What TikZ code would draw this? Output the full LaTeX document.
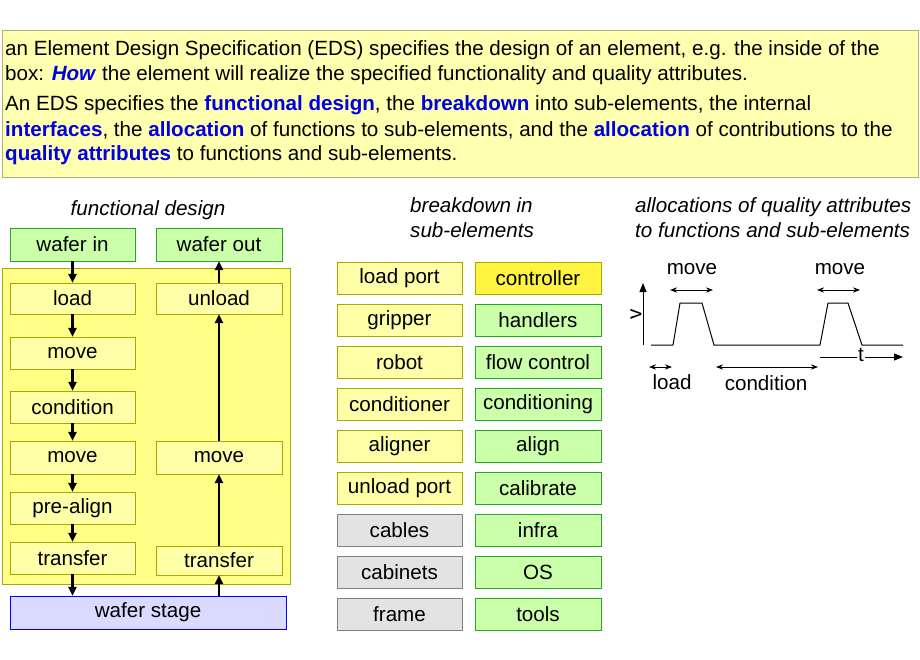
\documentclass[tikz,border=0pt]{standalone}
\usepackage{fontspec}
\setmainfont{Liberation Sans}
\usetikzlibrary{arrows.meta}
\definecolor{ly}{HTML}{FFFFB0}
\definecolor{cy}{HTML}{FFFF88}
\definecolor{by}{HTML}{FFFFA8}
\definecolor{gr}{HTML}{CCFFAA}
\definecolor{gb}{HTML}{22AA22}
\definecolor{yb}{HTML}{A8A800}
\definecolor{kw}{HTML}{0000E0}
\newcommand{\fs}{\fontsize{20.6}{23}\selectfont}
\begin{document}
\begin{tikzpicture}[x=1pt,y=-1pt,
 box/.style={draw=yb,fill=by,font=\fs},
 gbox/.style={draw=gb,fill=gr,font=\fs},
 ar/.style={-{Triangle[length=9pt,width=8pt]},line width=2.2pt},
 da/.style={{Stealth[length=7pt]}-{Stealth[length=7pt]},line width=1pt},
 lab/.style={font=\fs}]
\useasboundingbox (0,0) rectangle (920,660);
\fill[white] (0,0) rectangle (920,660);
% top text box
\draw[draw=gray!70!yellow,fill=ly] (2,30) rectangle (918,177);
\node[anchor=west,lab,inner sep=0] (t1) at (5,50) {an Element Design Specification (EDS) specifies the design of an element, e.g. the inside of the};
\node[anchor=west,lab,inner sep=0] (t2) at (5,75) {box: \textcolor{kw}{\textbf{\textit{How}}} the element will realize the specified functionality and quality attributes.};
\node[anchor=west,lab,inner sep=0] (t3) at (5,105) {An EDS specifies the \textcolor{kw}{\textbf{functional design}}, the \textcolor{kw}{\textbf{breakdown}} into sub-elements, the internal};
\node[anchor=west,lab,inner sep=0] (t4) at (5,130) {\textcolor{kw}{\textbf{interfaces}}, the \textcolor{kw}{\textbf{allocation}} of functions to sub-elements, and the \textcolor{kw}{\textbf{allocation}} of contributions to the};
\node[anchor=west,lab,inner sep=0] (t5) at (5,155) {\textcolor{kw}{\textbf{quality attributes}} to functions and sub-elements.};
% titles
\node[font=\fs\itshape] (h1) at (148,210) {functional design};
\node[anchor=west,font=\fs\itshape,align=left,inner sep=0] (h2) at (410,218) {breakdown in\\[2pt]sub-elements};
\node[anchor=west,font=\fs\itshape,align=left,inner sep=0] (h3) at (635,218) {allocations of quality attributes\\[2pt]to functions and sub-elements};
% functional design
\draw[draw=yb,fill=cy] (2,268) rectangle (290,584);
\newcommand{\bx}[6]{\node[#1,minimum width={(#4)-(#3)},minimum height={(#6)-(#5)},inner sep=0] (#2) at ({((#3)+(#4))/2},{((#5)+(#6))/2})}
\bx{gbox}{win}{10}{135}{228}{261}{wafer in};
\bx{gbox}{wout}{156}{282}{228}{261}{wafer out};
\bx{box}{load}{10}{135}{283}{314}{load};
\bx{box}{mv1}{10}{135}{337}{369}{move};
\bx{box}{cond}{10}{135}{391}{423}{condition};
\bx{box}{mv2}{10}{135}{441}{474}{move};
\bx{box}{pre}{10}{135}{492}{524}{pre-align};
\bx{box}{tr1}{10}{135}{542}{574}{transfer};
\bx{box}{unl}{156}{282}{283}{314}{unload};
\bx{box}{mv3}{156}{282}{441}{474}{move};
\bx{box}{tr2}{156}{282}{546}{575}{transfer};
\node[draw=blue,fill=blue!14,lab,minimum width=276,minimum height=33,inner sep=0] (ws) at (148,612.5) {wafer stage};
\foreach \a/\b in {win/load,load/mv1,mv1/cond,cond/mv2,mv2/pre,pre/tr1}
 \draw[ar] (\a.south) -- (\b.north);
\draw[ar] (tr1.south) -- (tr1.south |- ws.north);
\draw[ar] (tr2.south |- ws.north) -- (tr2.south);
\foreach \a/\b in {tr2/mv3,mv3/unl,unl/wout}
 \draw[ar] (\a.north) -- (\b.south);
% breakdown
\foreach \t [count=\i from 0] in {load port,gripper,robot,conditioner,aligner,unload port}
 \bx{box}{l\i}{337}{462}{262+42*\i}{294+42*\i}{\t};
\foreach \t [count=\i from 6] in {cables,cabinets,frame}
 \bx{box,draw=gray,fill=gray!22}{l\i}{337}{462}{262+42*\i}{294+42*\i}{\t};
\bx{box,fill=yellow!75,draw=yb}{r0}{475}{601}{262}{294}{controller};
\foreach \t [count=\i from 1] in {handlers,flow control,conditioning,align,calibrate,infra,OS,tools}
 \bx{gbox}{r\i}{475}{601}{262+42*\i}{294+42*\i}{\t};
% graph
\coordinate (va) at (643,345); \coordinate (vb) at (643,283);
\draw[line width=1pt,-{Triangle[length=9pt,width=7pt]}] (va) -- (vb);
\node[lab,rotate=90] (v) at (636,314) {v};
\draw[line width=1pt] (651,345) -- (673,345) -- (680,303) -- (702,303) -- (714,345) -- (820,345) -- (828,303) -- (848,303) -- (862,345) -- (903,345);
\coordinate (ta) at (820,357); \coordinate (tb) at (903,357);
\draw[line width=1pt,-{Triangle[length=9pt,width=7pt]}] (ta) -- (tb);
\node[lab,fill=white,inner sep=1pt] (t) at (861,355) {t};
\coordinate (m1a) at (670,290); \coordinate (m1b) at (713,290);
\draw[da] (m1a) -- (m1b); \node[lab] (mv1l) at (692,269) {move};
\coordinate (m2a) at (817,290); \coordinate (m2b) at (860,290);
\draw[da] (m2a) -- (m2b); \node[lab] (mv2l) at (840,269) {move};
\coordinate (la) at (649,367); \coordinate (lb) at (672,367);
\draw[da] (la) -- (lb); \node[lab] (ll) at (672,382) {load};
\coordinate (ca) at (716,367); \coordinate (cb) at (818,367);
\draw[da] (ca) -- (cb); \node[lab] (cl) at (766,383) {condition};
\end{tikzpicture}
\end{document}
